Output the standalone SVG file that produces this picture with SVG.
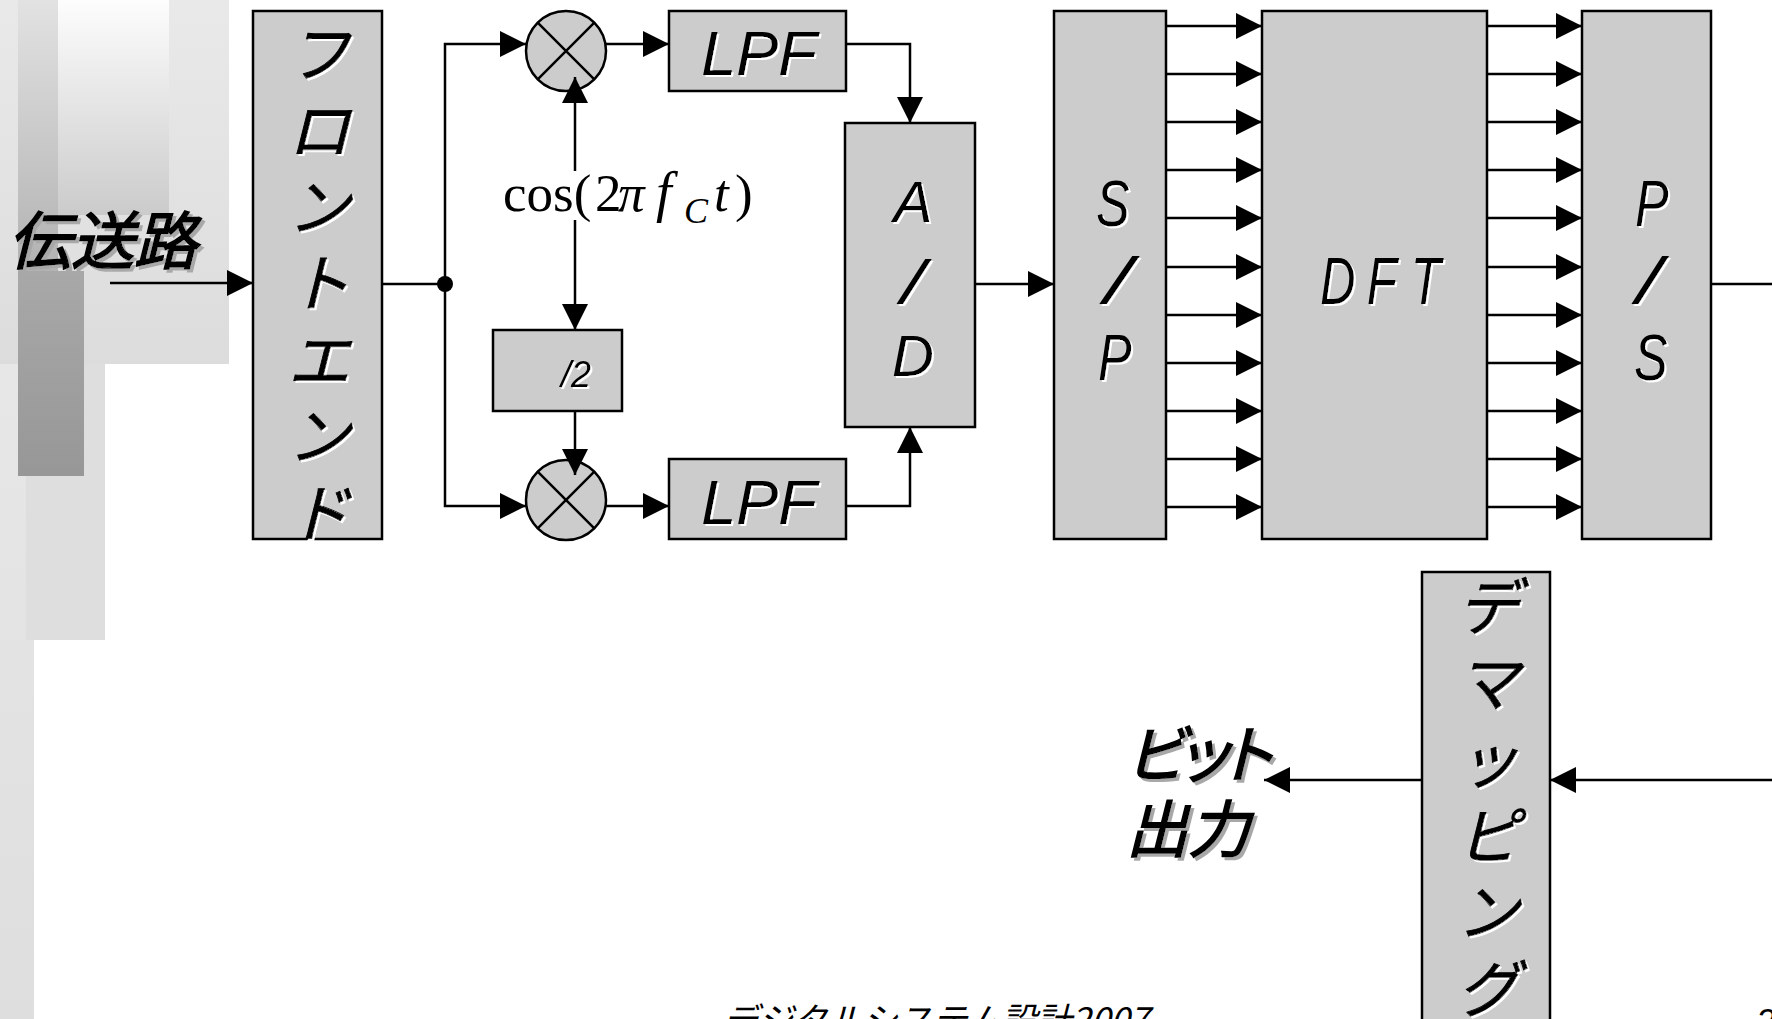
<svg xmlns="http://www.w3.org/2000/svg" width="1772" height="1019" viewBox="0 0 1772 1019">
<defs>
<style>
.box{fill:#cccccc;stroke:#000;stroke-width:2.5}
.ln{fill:none;stroke:#000;stroke-width:2.5}
.ar{marker-end:url(#ah)}
.jp{font-family:"Noto Sans CJK JP","Noto Sans CJK SC",sans-serif;font-style:italic;font-size:62px;text-anchor:middle;fill:#000}
.thk{stroke:#000;stroke-width:0.9}
.thk2{stroke:#000;stroke-width:1.6}
.la{font-family:"Liberation Sans",Arial,sans-serif;font-style:italic;fill:#000}
.tm{font-family:"Liberation Serif","Times New Roman",serif;fill:#000}
</style>
<marker id="ah" viewBox="0 0 26 26" refX="26" refY="13" markerWidth="26" markerHeight="26" markerUnits="userSpaceOnUse" orient="auto"><path d="M0,0L26,13L0,26Z" fill="#000"/></marker>
<filter id="shw" x="-10%" y="-10%" width="130%" height="130%"><feOffset in="SourceAlpha" dx="2" dy="2" result="o"/><feFlood flood-color="#ffffff"/><feComposite in2="o" operator="in"/><feMerge><feMergeNode/><feMergeNode in="SourceGraphic"/></feMerge></filter>
<filter id="shg" x="-10%" y="-10%" width="130%" height="130%"><feOffset in="SourceAlpha" dx="3" dy="3" result="o"/><feFlood flood-color="#a8a8a8"/><feComposite in2="o" operator="in"/><feMerge><feMergeNode/><feMergeNode in="SourceGraphic"/></feMerge></filter>
<linearGradient id="gLeft" x1="0" y1="0" x2="0" y2="1"><stop offset="0" stop-color="#ececec"/><stop offset="1" stop-color="#dedede"/></linearGradient>
<linearGradient id="gTop" x1="0" y1="0" x2="0" y2="1"><stop offset="0" stop-color="#e9e9e9"/><stop offset="1" stop-color="#dcdcdc"/></linearGradient>
<linearGradient id="gStrip" x1="0" y1="0" x2="0" y2="1"><stop offset="0" stop-color="#e2e2e2"/><stop offset="1" stop-color="#b2b2b2"/></linearGradient>
<linearGradient id="gWhite" x1="0" y1="0" x2="0" y2="1"><stop offset="0" stop-color="#fdfdfd"/><stop offset="1" stop-color="#cbcbcb"/></linearGradient>
<linearGradient id="gDark" x1="0" y1="0" x2="0" y2="1"><stop offset="0" stop-color="#a8a8a8"/><stop offset="1" stop-color="#979797"/></linearGradient>
</defs>
<rect width="1772" height="1019" fill="#ffffff"/>
<g id="background">
<rect x="0" y="0" width="34" height="1019" fill="url(#gLeft)"/>
<rect x="26" y="300" width="79" height="340" fill="#dedede"/>
<rect x="0" y="0" width="229" height="364" fill="url(#gTop)"/>
<rect x="18" y="0" width="40" height="271" fill="url(#gStrip)"/>
<rect x="58" y="0" width="111" height="215" fill="url(#gWhite)"/>
<rect x="18" y="271" width="66" height="205" fill="url(#gDark)"/>
</g>
<g id="label-input"><text class="jp thk2" x="8" y="264" style="text-anchor:start;font-size:63px" filter="url(#shg)">伝送路</text></g>
<g id="node-frontend">
<rect class="box" x="253" y="11" width="129" height="528"/>
<g class="jp thk" filter="url(#shw)">
<text x="319" y="77">フ</text><text x="319" y="153">ロ</text><text x="319" y="230">ン</text><text x="319" y="306">ト</text><text x="319" y="383">エ</text><text x="319" y="459">ン</text><text x="319" y="536">ド</text>
</g>
</g>
<g id="node-mixer-top">
<circle cx="566" cy="51" r="40" class="box"/>
<path class="ln" d="M537.7,22.7L594.3,79.3M594.3,22.7L537.7,79.3"/>
</g>
<g id="node-mixer-bottom">
<circle cx="566" cy="500" r="40" class="box"/>
<path class="ln" d="M537.7,471.7L594.3,528.3M594.3,471.7L537.7,528.3"/>
</g>
<g id="node-lpf-top">
<rect class="box" x="669" y="11" width="177" height="80"/>
<text class="la" x="759" y="75" font-size="63" text-anchor="middle" filter="url(#shw)">LPF</text>
</g>
<g id="node-lpf-bottom">
<rect class="box" x="669" y="459" width="177" height="80"/>
<text class="la" x="759" y="524" font-size="63" text-anchor="middle" filter="url(#shw)">LPF</text>
</g>
<g id="node-half">
<rect class="box" x="493" y="330" width="129" height="81"/>
<text class="la" x="561" y="387" font-size="36" filter="url(#shw)">/2</text>
</g>
<g id="node-ad">
<rect class="box" x="845" y="123" width="130" height="304"/>
<g class="la" text-anchor="middle" filter="url(#shw)">
<text x="913" y="222" font-size="58">A</text>
<text transform="translate(913,303) scale(1.35,1)" font-size="62">/</text>
<text x="913" y="376" font-size="58">D</text>
</g>
</g>
<g id="node-sp">
<rect class="box" x="1054" y="11" width="112" height="528"/>
<g class="la" font-size="64" text-anchor="middle" filter="url(#shw)">
<text transform="translate(1113,226) scale(0.78,1)">S</text>
<text transform="translate(1118,303) scale(1.5,1)">/</text>
<text transform="translate(1115,380) scale(0.78,1)">P</text>
</g>
</g>
<g id="node-dft">
<rect class="box" x="1262" y="11" width="225" height="528"/>
<g class="la" font-size="66" text-anchor="middle" filter="url(#shw)">
<text transform="translate(1338,304) scale(0.74,1)">D</text>
<text transform="translate(1382,304) scale(0.74,1)">F</text>
<text transform="translate(1426,304) scale(0.74,1)">T</text>
</g>
</g>
<g id="node-ps">
<rect class="box" x="1582" y="11" width="129" height="528"/>
<g class="la" font-size="64" text-anchor="middle" filter="url(#shw)">
<text transform="translate(1652,226) scale(0.78,1)">P</text>
<text transform="translate(1649,303) scale(1.4,1)">/</text>
<text transform="translate(1651,380) scale(0.78,1)">S</text>
</g>
</g>
<g id="node-demap">
<rect class="box" x="1422" y="572" width="128" height="470"/>
<g class="jp thk" filter="url(#shw)">
<text x="1488" y="630">デ</text><text x="1488" y="706">マ</text><text x="1488" y="783">ッ</text><text x="1488" y="859">ピ</text><text x="1488" y="935">ン</text><text x="1488" y="1012">グ</text>
</g>
</g>
<g id="label-output" filter="url(#shg)">
<text class="jp thk2" x="1126" y="777" style="text-anchor:start;letter-spacing:-4px;font-feature-settings:'palt' 1">ビット</text>
<text class="jp thk2" x="1126" y="852" style="text-anchor:start">出力</text>
</g>
<g id="label-cos" font-size="53">
<text class="tm" x="503" y="211">cos(</text>
<text class="tm" x="595" y="211">2</text>
<text class="tm" x="618" y="211" font-style="italic">π</text>
<text class="tm" x="656" y="211" font-style="italic" font-size="56">f</text>
<text class="tm" x="684" y="223" font-style="italic" font-size="36">C</text>
<text class="tm" x="714" y="211" font-style="italic">t</text>
<text class="tm" x="735" y="211">)</text>
</g>
<g id="connectors">
<path class="ln ar" d="M110,283H253"/>
<path class="ln" d="M382,284H445"/>
<circle cx="445" cy="284" r="8" fill="#000"/>
<path class="ln ar" d="M445,284V44H526"/>
<path class="ln ar" d="M445,284V506H526"/>
<path class="ln ar" d="M606,44H669"/>
<path class="ln ar" d="M606,506H669"/>
<path class="ln ar" d="M846,44H910V123"/>
<path class="ln ar" d="M846,506H910V427"/>
<path class="ln ar" d="M575,171V77"/>
<path class="ln ar" d="M575,220V330"/>
<path class="ln ar" d="M575,411V475"/>
<path class="ln ar" d="M975,284H1054"/>
<path class="ln ar" d="M1166,26H1262"/>
<path class="ln ar" d="M1166,74H1262"/>
<path class="ln ar" d="M1166,122H1262"/>
<path class="ln ar" d="M1166,170H1262"/>
<path class="ln ar" d="M1166,218H1262"/>
<path class="ln ar" d="M1166,267H1262"/>
<path class="ln ar" d="M1166,315H1262"/>
<path class="ln ar" d="M1166,363H1262"/>
<path class="ln ar" d="M1166,411H1262"/>
<path class="ln ar" d="M1166,459H1262"/>
<path class="ln ar" d="M1166,507H1262"/>
<path class="ln ar" d="M1487,26H1582"/>
<path class="ln ar" d="M1487,74H1582"/>
<path class="ln ar" d="M1487,122H1582"/>
<path class="ln ar" d="M1487,170H1582"/>
<path class="ln ar" d="M1487,218H1582"/>
<path class="ln ar" d="M1487,267H1582"/>
<path class="ln ar" d="M1487,315H1582"/>
<path class="ln ar" d="M1487,363H1582"/>
<path class="ln ar" d="M1487,411H1582"/>
<path class="ln ar" d="M1487,459H1582"/>
<path class="ln ar" d="M1487,507H1582"/>
<path class="ln" d="M1711,284H1772"/>
<path class="ln ar" d="M1772,780H1550"/>
<path class="ln ar" d="M1422,780H1264"/>
</g>
<g id="footer">
<text class="jp" x="723" y="1033" style="text-anchor:start;font-size:35px">デジタルシステム設計2007</text>
<text class="la" x="1756" y="1033" font-size="35">2</text>
</g>
</svg>
